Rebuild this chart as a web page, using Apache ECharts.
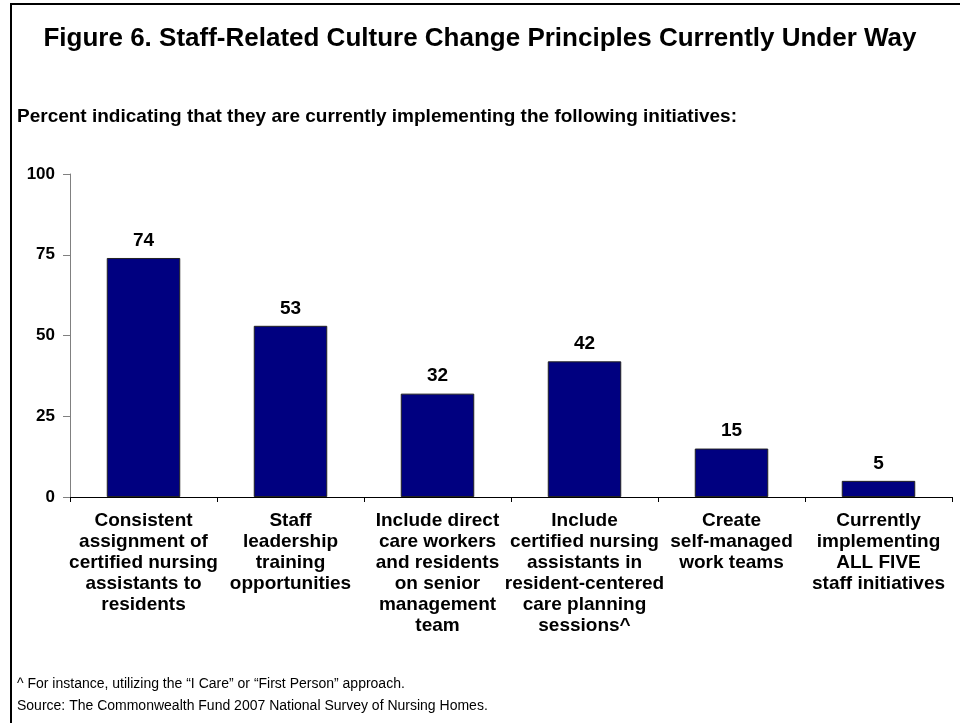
<!DOCTYPE html>
<html>
<head>
<meta charset="utf-8">
<script src="https://cdn.jsdelivr.net/npm/echarts@6/dist/echarts.min.js"></script>
<style>
html,body{margin:0;padding:0;background:#fff;}
#c{width:960px;height:723px;}
</style>
</head>
<body>
<div id="c"></div>
<script>
const titleText = "Figure 6. Staff-Related Culture Change Principles Currently Under Way";
const subtitleText = "Percent indicating that they are currently implementing the following initiatives:";
const footnote1 = "^ For instance, utilizing the \u201cI Care\u201d or \u201cFirst Person\u201d approach.";
const footnote2 = "Source: The Commonwealth Fund 2007 National Survey of Nursing Homes.";
const categories = [
  "Consistent\nassignment of\ncertified nursing\nassistants to\nresidents",
  "Staff\nleadership\ntraining\nopportunities",
  "Include direct\ncare workers\nand residents\non senior\nmanagement\nteam",
  "Include\ncertified nursing\nassistants in\nresident-centered\ncare planning\nsessions^",
  "Create\nself-managed\nwork teams",
  "Currently\nimplementing\nALL FIVE\nstaff initiatives"
];
const values = [74, 53, 32, 42, 15, 5];
const yTicks = [0, 25, 50, 75, 100];

const FONT = "'Liberation Sans', Arial, sans-serif";
const chart = echarts.init(document.getElementById('c'), null, {renderer: 'canvas'});
chart.setOption({
  backgroundColor: '#fff',
  animation: false,
  textStyle: {fontFamily: FONT},
  title: [
    {text: titleText, left: 'center', top: 26, padding: 0,
     textStyle: {fontFamily: FONT, fontSize: 26, fontWeight: 'bold', color: '#000'}},
    {text: subtitleText, left: 17, top: 107, padding: 0,
     textStyle: {fontFamily: FONT, fontSize: 19, fontWeight: 'bold', color: '#000'}},
    {text: footnote1, left: 17, top: 677, padding: 0,
     textStyle: {fontFamily: FONT, fontSize: 14, fontWeight: 'normal', color: '#000'}},
    {text: footnote2, left: 17, top: 699, padding: 0,
     textStyle: {fontFamily: FONT, fontSize: 14, fontWeight: 'normal', color: '#000'}}
  ],
  graphic: [
    {type: 'rect', shape: {x: 10, y: 3, width: 960, height: 2}, style: {fill: '#000'}},
    {type: 'rect', shape: {x: 10, y: 3, width: 2, height: 723}, style: {fill: '#000'}}
  ],
  grid: {left: 70, right: 8, top: 174, bottom: 226, containLabel: false},
  xAxis: {
    type: 'category',
    data: categories,
    axisLine: {lineStyle: {color: '#000', width: 1}},
    axisTick: {show: true, length: 5, lineStyle: {color: '#000'}},
    axisLabel: {
      interval: 0, margin: 13, fontFamily: FONT, fontSize: 19, fontWeight: 'bold',
      color: '#000', lineHeight: 21, align: 'center'
    }
  },
  yAxis: {
    type: 'value', min: 0, max: 100, interval: 25,
    axisLine: {show: true, lineStyle: {color: '#808080', width: 1}},
    axisTick: {show: true, length: 7, lineStyle: {color: '#808080'}},
    splitLine: {show: false},
    axisLabel: {
      margin: 15, fontFamily: FONT, fontSize: 17, fontWeight: 'bold', color: '#000',
      formatter: function (v) { return yTicks.indexOf(v) >= 0 ? String(v) : ''; }
    }
  },
  series: [{
    type: 'bar',
    data: values,
    barWidth: '50%',
    itemStyle: {color: '#000080', borderColor: '#222', borderWidth: 1},
    label: {show: true, position: 'top', distance: 8, fontFamily: FONT,
            fontSize: 19, fontWeight: 'bold', color: '#000'}
  }]
});
</script>
</body>
</html>
